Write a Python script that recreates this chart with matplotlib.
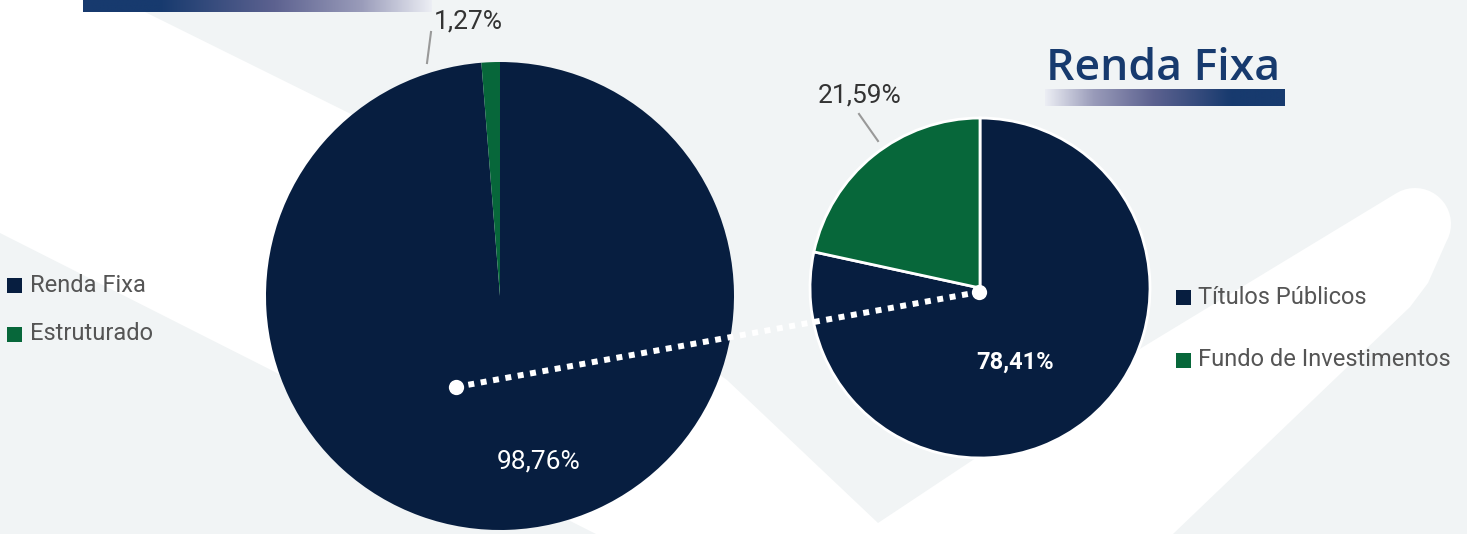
import matplotlib.pyplot as plt
import numpy as np
from matplotlib.colors import LinearSegmentedColormap
from matplotlib.patches import Polygon, Rectangle

# composition of the portfolio and of the fixed income part
carteira_labels = ["Renda Fixa", "Estruturado"]
carteira_values = [98.76, 1.27]

renda_fixa_labels = ["Títulos Públicos", "Fundo de Investimentos"]
renda_fixa_values = [78.41, 21.59]

NAVY = "#071e40"
GREEN = "#07673a"
TITLE_BLUE = "#173a6e"
BG = "#f1f4f5"
TEXT_GREY = "#555555"

W, H = 1467, 534
COND = ["Roboto", "DejaVu Sans"]


def py(y):
    # layout is worked out from the top edge, axes y runs upwards
    return H - y


def pct(v):
    return f"{v:.2f}%".replace(".", ",")


fig = plt.figure(figsize=(W / 100, H / 100), dpi=100, facecolor=BG)
ax = fig.add_axes([0, 0, 1, 1])
ax.set_facecolor(BG)

# white swoosh in the background, with a rounded tip on the right
tip = np.radians(np.linspace(122, -30, 20))
tip_pts = [(1415 + 36 * np.cos(a), 224 - 36 * np.sin(a)) for a in tip]
swoosh = ([(0, 0), (121, 0), (147, 13), (357, 117), (727, 380), (878, 523),
           (1143, 347)] + tip_pts +
          [(1428, 283), (1410, 307), (1173, 534), (596, 534), (277, 373), (0, 233)])
ax.add_patch(Polygon([(x, py(y)) for x, y in swoosh], closed=True,
                     facecolor="white", edgecolor="none", zorder=0))

# gradient bars
grad = LinearSegmentedColormap.from_list(
    "bar", [(0, TITLE_BLUE), (0.22, TITLE_BLUE), (0.55, "#5d6290"),
            (0.8, "#9a9cba"), (1, "#eceef4")])
ramp = np.linspace(0, 1, 256).reshape(1, -1)
ax.imshow(ramp, cmap=grad, aspect="auto", extent=(83, 432, py(12.5), py(0)), zorder=1)
ax.imshow(ramp[:, ::-1], cmap=grad, aspect="auto",
          extent=(1045, 1285, py(106), py(89)), zorder=1)

# pies
ax.pie(carteira_values, colors=[NAVY, GREEN], startangle=90, counterclock=False,
       center=(500, py(296)), radius=234,
       wedgeprops=dict(edgecolor="none", zorder=2))
ax.pie(renda_fixa_values, colors=[NAVY, GREEN], startangle=90, counterclock=False,
       center=(980, py(288)), radius=170,
       wedgeprops=dict(edgecolor="white", linewidth=2, zorder=2))

ax.set_xlim(0, W)
ax.set_ylim(0, H)
ax.set_aspect("auto")
ax.axis("off")

# dotted connector between the two pies
ax.plot([456, 979], [py(387), py(292)], color="white", lw=4.3,
        linestyle=(0, (1.0, 1.1)), dash_capstyle="butt", zorder=3)
ax.plot([456, 979], [py(387), py(292)], "o", color="white", ms=11, mew=0, zorder=4)

# value labels
ax.text(539, py(461), pct(carteira_values[0]), color="white", fontsize=19,
        family=COND, ha="center", va="center", zorder=5)
ax.text(468, py(22), pct(carteira_values[1]), color="#333333", fontsize=19,
        family=COND, ha="center", va="center", zorder=5)
ax.plot([427, 431], [py(63), py(32)], color="#999999", lw=1.5, zorder=5)

ax.text(1015, py(362), pct(renda_fixa_values[0]), color="white", fontsize=17,
        fontweight="bold", family=COND, ha="center", va="center", zorder=5)
ax.text(860, py(95), pct(renda_fixa_values[1]), color="#333333", fontsize=19,
        family=COND, ha="center", va="center", zorder=5)
ax.plot([859, 878], [py(114), py(141)], color="#999999", lw=1.5, zorder=5)

# title of the detail pie
ax.text(1163, py(80), "Renda Fixa", color=TITLE_BLUE, fontsize=32,
        fontweight="semibold", family=["Open Sans", "DejaVu Sans"],
        ha="center", va="baseline", zorder=5)

# legends
for (sx, tx, ys), labels in [((7, 30, [285, 334]), carteira_labels),
                             ((1176, 1198, [297, 360]), renda_fixa_labels)]:
    for y, label, c in zip(ys, labels, [NAVY, GREEN]):
        ax.add_patch(Rectangle((sx, py(y + 7.5)), 15, 15, facecolor=c,
                               edgecolor="none", zorder=5))
        ax.text(tx, py(y), label, color=TEXT_GREY, fontsize=17, family=COND,
                ha="left", va="center", zorder=5)

fig.savefig("out.png", dpi=100, facecolor=BG)
